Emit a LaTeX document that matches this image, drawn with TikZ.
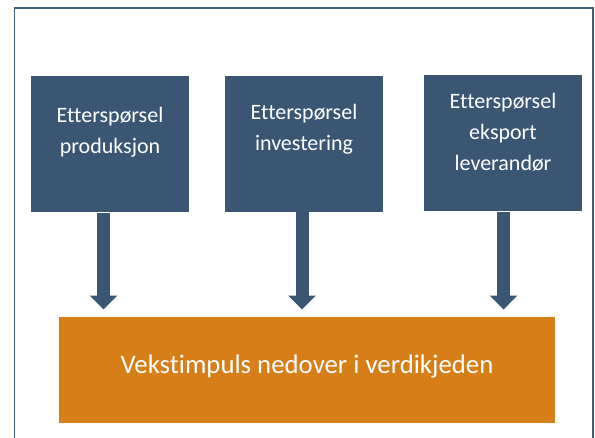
\documentclass[tikz,border=0pt]{standalone}
\usepackage{fontspec}
\setmainfont{Carlito}[Ligatures=NoCommon]
\usetikzlibrary{arrows.meta}

\definecolor{boksblaa}{RGB}{58,86,115}
\definecolor{vekstoransje}{RGB}{214,126,23}
\definecolor{rammeblaa}{RGB}{64,94,128}

\tikzset{every picture/.style={line width=0.75pt}}
\tikzset{
	boks/.style={fill=boksblaa, draw=none, inner sep=0pt, minimum width=118.5pt, minimum height=102pt},
	vekstboks/.style={fill=vekstoransje, draw=none, inner sep=0pt, minimum width=372pt, minimum height=79.5pt},
	bokstekst/.style={anchor=base, align=center, text=white, inner sep=0pt, font=\fontsize{16.5}{23.25}\selectfont},
	vekstekst/.style={anchor=base, text=white, inner sep=0pt, font=\fontsize{20.1}{24}\selectfont},
	pil/.style={draw=boksblaa, line width=9.75pt, -{Triangle[length=10.5pt,width=20.25pt]}, shorten >=5.25pt}
}

\begin{document}
\begin{tikzpicture}[x=0.75pt,y=0.75pt,yscale=-1,xscale=1]
	\useasboundingbox (0,0) rectangle (595,437);
	\clip (0,0) rectangle (595,437);

	%Frame
	\draw [draw=rammeblaa, line width=1.2pt] (14.5,8) rectangle (593,460);

	%Boxes
	\node [boks] (prod) at (110,144) {};
	\node [boks] (inv) at (304,143.5) {};
	\node [boks] (eksp) at (503,143) {};
	\node [vekstboks] (vekst) at (307,370) {};

	% Text Node
	\node [bokstekst] (prodtekst) at (110,153) {Etterspørsel\\produksjon};
	% Text Node
	\node [bokstekst] (invtekst) at (304,150.5) {Etterspørsel\\investering};
	% Text Node
	\node [bokstekst] (eksptekst) at (503,170.5) {Etterspørsel\\eksport\\leverandør};
	% Text Node
	\node [vekstekst] (vekststekst) at (307,373) {Vekstimpuls nedover i verdikjeden};

	%Arrows
	\draw [pil] ([xshift=-4.9pt]prod.south) -- ([xshift=-4.9pt]prod.south |- vekst.north);
	\draw [pil] ([xshift=-1.5pt]inv.south) -- ([xshift=-1.5pt]inv.south |- vekst.north);
	\draw [pil] ([xshift=0.4pt]eksp.south) -- ([xshift=0.4pt]eksp.south |- vekst.north);

\end{tikzpicture}
\end{document}
